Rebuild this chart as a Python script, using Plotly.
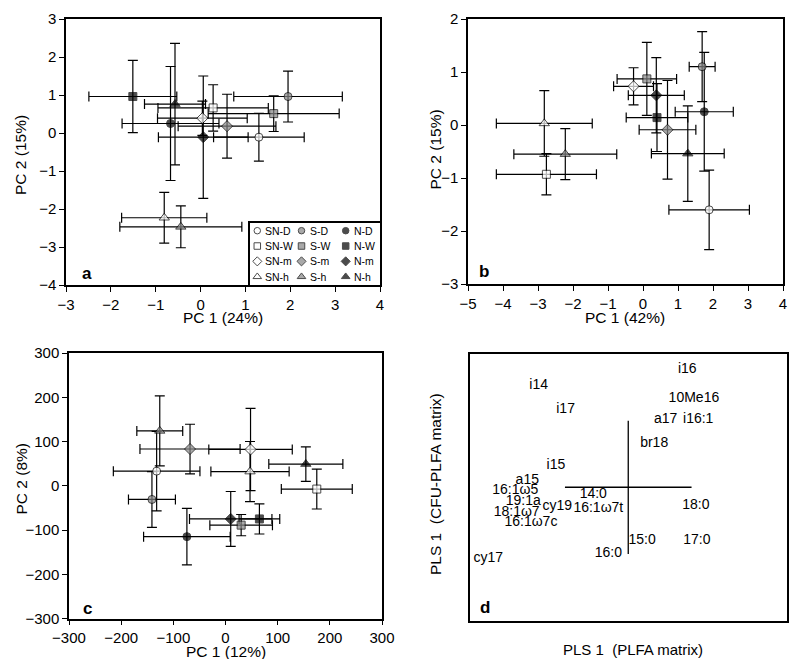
import plotly.graph_objects as go

# ---------------- data ----------------
groups = ["SN-D", "SN-W", "SN-m", "SN-h",
          "S-D", "S-W", "S-m", "S-h",
          "N-D", "N-W", "N-m", "N-h"]

# panel a : PC1 (24%) vs PC2 (15%)
a_x = [1.30, 0.28, 0.04, -0.81, 1.95, 1.63, 0.59, -0.44, -0.67, -1.51, 0.06, -0.57]
a_y = [-0.11, 0.66, 0.39, -2.23, 0.96, 0.51, 0.18, -2.47, 0.25, 0.96, -0.11, 0.76]
a_xerr = [1.01, 1.23, 1.00, 0.95, 1.21, 1.46, 1.09, 1.36, 1.08, 0.98, 1.00, 0.68]
a_yerr = [0.63, 0.61, 0.45, 0.67, 0.67, 0.47, 0.84, 0.55, 1.50, 0.95, 1.61, 1.60]

# panel b : PC1 (42%) vs PC2 (15%)
b_x = [1.89, -2.76, -0.27, -2.82, 1.69, 0.11, 0.70, -2.22, 1.75, 0.40, 0.38, 1.28]
b_y = [-1.60, -0.93, 0.73, 0.03, 1.10, 0.87, -0.09, -0.55, 0.25, 0.14, 0.56, -0.54]
b_xerr = [1.15, 1.43, 0.57, 1.37, 0.37, 0.85, 0.81, 1.47, 0.83, 0.88, 0.80, 1.04]
b_yerr = [0.75, 0.39, 0.35, 0.62, 0.66, 0.69, 0.93, 0.48, 1.12, 0.64, 0.71, 0.90]

# panel c : PC1 (12%) vs PC2 (8%)
c_x = [-132, 175, 48, 47, -141, 30, -68, -126, -74, 65, 10, 154]
c_y = [33, -7.5, 82, 32, -31, -89, 83, 124, -115, -75, -75, 49]
c_xerr = [83, 68, 80, 75, 45, 60, 96, 44, 83, 39, 79, 71]
c_yerr = [90, 45, 93, 68, 63, 24, 56, 79, 64, 34, 62, 39]

# panel d : PLS loadings (labels)
d_labels = ["i16", "i14", "10Me16", "i17", "a17", "i16:1", "br18", "i15", "a15",
            "16:1\u03c95", "19:1a", "18:1\u03c97", "16:1\u03c97c", "cy19", "14:0",
            "16:1\u03c97t", "18:0", "15:0", "17:0", "16:0", "cy17"]
d_x = [0.373, -0.566, 0.415, -0.396, 0.236, 0.442, 0.164, -0.457, -0.638,
       -0.714, -0.663, -0.705, -0.615, -0.448, -0.221,
       -0.189, 0.427, 0.088, 0.434, -0.126, -0.884]
d_y = [0.885, 0.760, 0.668, 0.580, 0.505, 0.505, 0.330, 0.160, 0.050,
       -0.028, -0.108, -0.188, -0.265, -0.145, -0.055,
       -0.160, -0.140, -0.400, -0.400, -0.495, -0.533]
d_hline_x = [-0.4, 0.4]
d_vline_y = [-0.5, 0.5]

# ---------------- styling ----------------
OFF = 8                 # default page margin around the plot div
FW, FH = 784, 651       # figure size so that the page fits the 800x667 window
FONT = "Liberation Sans, Arial, Helvetica, sans-serif"
GREY = "#858585"

fill_of = {"SN": "white", "S": GREY, "N": "black"}
symbol_of = {"D": "circle", "W": "square", "m": "diamond", "h": "triangle-up"}
size_of = {"D": 8, "W": 8, "m": 8.5, "h": 9}


def style(g):
    site, kind = g.split("-")
    return fill_of[site], symbol_of[kind], size_of[kind]


def dx(p):
    return (p - OFF) / FW


def dy(p):
    return 1 - (p - OFF) / FH


def label(text, xp, yp, size=15.5, angle=0):
    return dict(text=text, x=dx(xp), y=dy(yp), xref="paper", yref="paper",
                xanchor="center", yanchor="middle", showarrow=False, textangle=angle,
                font=dict(family=FONT, size=size, color="black"))


fig = go.Figure()
fig.update_layout(template="none")

panels = [
    dict(x=a_x, y=a_y, xe=a_xerr, ye=a_yerr, xr=[-3, 4], yr=[-4, 3], dt=(1, 1),
         px=(66, 380), py=(19, 285), xt="PC 1 (24%)", yt="PC 2 (15%)",
         xtpos=(223, 317), ytpos=(20, 155), letter="a", lpos=(86.5, 273)),
    dict(x=b_x, y=b_y, xe=b_xerr, ye=b_yerr, xr=[-5, 4], yr=[-3, 2], dt=(1, 1),
         px=(468, 783), py=(19, 284), xt="PC 1 (42%)", yt="PC 2 (15%)",
         xtpos=(625, 317), ytpos=(434.5, 150), letter="b", lpos=(483.5, 271)),
    dict(x=c_x, y=c_y, xe=c_xerr, ye=c_yerr, xr=[-300, 300], yr=[-300, 300], dt=(100, 100),
         px=(69, 382), py=(353, 618.5), xt="PC 1 (12%)", yt="PC 2 (8%)",
         xtpos=(226, 651), ytpos=(20.5, 479), letter="c", lpos=(87, 608)),
]

axis_common = dict(showline=True, linecolor="black", linewidth=1.5, mirror=True,
                   ticks="outside", ticklen=5, tickwidth=1.3, tickcolor="black",
                   showgrid=False, zeroline=False, fixedrange=True, automargin=False,
                   tickfont=dict(family=FONT, size=15, color="black"))

plain_axis = dict(showline=True, linecolor="black", linewidth=1.5, mirror=True,
                  ticks="", showticklabels=False, showgrid=False, zeroline=False,
                  fixedrange=True, automargin=False)

annotations = []
for i, p in enumerate(panels, start=1):
    sx = "" if i == 1 else str(i)
    xa, ya = "x" + sx, "y" + sx
    fig.update_layout(**{
        "xaxis" + sx: dict(axis_common, domain=[dx(p["px"][0]), dx(p["px"][1])],
                           range=p["xr"], dtick=p["dt"][0], tick0=0, anchor=ya),
        "yaxis" + sx: dict(axis_common, domain=[dy(p["py"][1]), dy(p["py"][0])],
                           range=p["yr"], dtick=p["dt"][1], tick0=0, anchor=xa),
    })
    # error bars first (under the markers)
    fig.add_trace(go.Scatter(
        x=p["x"], y=p["y"], xaxis=xa, yaxis=ya, mode="markers",
        marker=dict(size=2, color="rgba(0,0,0,0)"),
        error_x=dict(type="data", array=p["xe"], color="black", thickness=1.2, width=5),
        error_y=dict(type="data", array=p["ye"], color="black", thickness=1.2, width=5),
        showlegend=False, hoverinfo="skip"))
    sty = [style(g) for g in groups]
    fig.add_trace(go.Scatter(
        x=p["x"], y=p["y"], xaxis=xa, yaxis=ya, mode="markers", text=groups,
        marker=dict(symbol=[s[1] for s in sty], color=[s[0] for s in sty],
                    size=[s[2] for s in sty], line=dict(color="black", width=1)),
        showlegend=False))
    annotations.append(label(p["xt"], *p["xtpos"]))
    annotations.append(label(p["yt"], *p["ytpos"], angle=-90))
    annotations.append(label("<b>%s</b>" % p["letter"], *p["lpos"], size=17))

# ---------------- panel d ----------------
fig.update_layout(
    xaxis4=dict(plain_axis, domain=[dx(470), dx(786.5)], range=[-1, 1], anchor="y4"),
    yaxis4=dict(plain_axis, domain=[dy(620.5), dy(354)], range=[-1, 1], anchor="x4"),
)
fig.add_trace(go.Scatter(x=d_hline_x, y=[0, 0], xaxis="x4", yaxis="y4", mode="lines",
                         line=dict(color="black", width=1.3), showlegend=False,
                         hoverinfo="skip"))
fig.add_trace(go.Scatter(x=[0, 0], y=d_vline_y, xaxis="x4", yaxis="y4", mode="lines",
                         line=dict(color="black", width=1.3), showlegend=False,
                         hoverinfo="skip"))
fig.add_trace(go.Scatter(x=d_x, y=d_y, xaxis="x4", yaxis="y4", mode="text",
                         text=d_labels, textposition="middle center",
                         textfont=dict(family=FONT, size=14, color="black"),
                         showlegend=False))
annotations.append(label("PLS 1\u00a0\u00a0(PLFA matrix)", 632.7, 649.5, size=15))
annotations.append(label("PLS 1\u00a0\u00a0(CFU-PLFA matrix)", 435.5, 484.5, angle=-90))
annotations.append(label("<b>d</b>", 485, 607, size=17))

# ---------------- legend (inset in panel a) ----------------
fig.update_layout(
    xaxis5=dict(plain_axis, domain=[dx(250), dx(380)], range=[-0.165, 2.776], anchor="y5"),
    yaxis5=dict(plain_axis, domain=[dy(285), dy(222.7)], range=[3.542, -0.522], anchor="x5"),
)
leg_col = [i // 4 for i in range(len(groups))]
leg_row = [i % 4 for i in range(len(groups))]
sty = [style(g) for g in groups]
fig.add_trace(go.Scatter(
    x=leg_col, y=leg_row, xaxis="x5", yaxis="y5", mode="markers",
    marker=dict(symbol=[s[1] for s in sty], color=[s[0] for s in sty],
                size=[s[2] - 1.5 for s in sty], line=dict(color="black", width=1)),
    showlegend=False, hoverinfo="skip"))
for g, c, r in zip(groups, leg_col, leg_row):
    annotations.append(dict(text=g, x=c + 0.14, y=r, xref="x5", yref="y5",
                            xanchor="left", yanchor="middle", showarrow=False,
                            font=dict(family=FONT, size=10.5, color="black")))

fig.update_layout(
    width=FW, height=FH, margin=dict(l=0, r=0, t=0, b=0, pad=0),
    paper_bgcolor="white", plot_bgcolor="rgba(0,0,0,0)",
    font=dict(family=FONT, color="black"),
    annotations=annotations, showlegend=False,
)

fig.write_html("out.html")
